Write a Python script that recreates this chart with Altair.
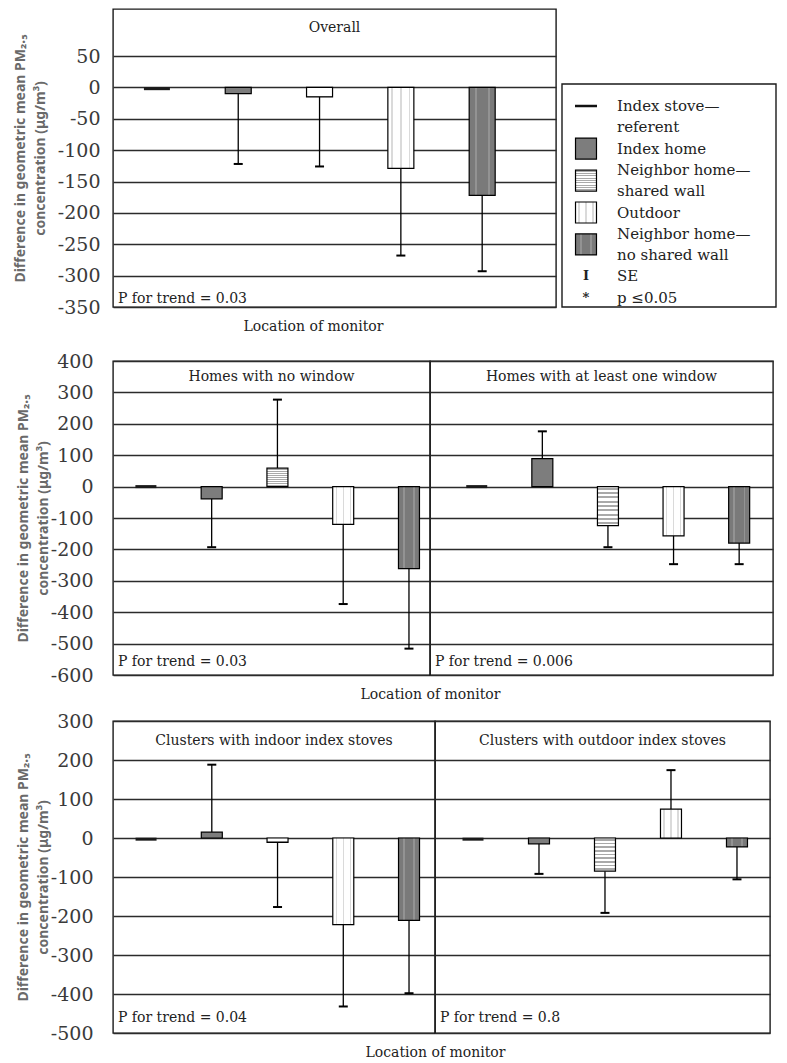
import altair as alt
import pandas as pd

# ---------------- data ----------------
locations = ["Index stove—referent", "Index home", "Neighbor home—shared wall",
             "Outdoor", "Neighbor home—no shared wall"]

overall_diff = [-2, -10, -15, -129, -172]
overall_se_end = [None, -122, -126, -268, -293]

no_window_diff = [0, -39, 59, -120, -261]
no_window_se_end = [None, -193, 277, -374, -516]
window_diff = [0, 89, -124, -157, -180]
window_se_end = [None, 176, -193, -247, -247]

indoor_diff = [-3, 15, -11, -222, -211]
indoor_se_end = [None, 188, -177, -432, -398]
outdoor_diff = [-3, -15, -85, 74, -23]
outdoor_se_end = [None, -92, -192, 174, -106]

overall_ticks = [-350, -300, -250, -200, -150, -100, -50, 0, 50]
window_ticks = [-600, -500, -400, -300, -200, -100, 0, 100, 200, 300, 400]
stove_ticks = [-500, -400, -300, -200, -100, 0, 100, 200, 300]

panel_titles = ["Overall", "Homes with no window", "Homes with at least one window",
                "Clusters with indoor index stoves", "Clusters with outdoor index stoves"]
trend_labels = ["P for trend = 0.03", "P for trend = 0.03", "P for trend = 0.006",
                "P for trend = 0.04", "P for trend = 0.8"]
x_title = "Location of monitor"
y_title = ["Difference in geometric mean PM₂.₅", "concentration (μg/m³)"]

legend_labels = ["Index stove—\nreferent", "Index home", "Neighbor home—\nshared wall",
                 "Outdoor", "Neighbor home—\nno shared wall", "SE", "p ≤0.05"]
legend_kinds = ["dash", "Index home", "Neighbor home—shared wall", "Outdoor",
                "Neighbor home—no shared wall", "glyph", "glyph"]
legend_glyphs = ["", "", "", "", "", "I", "*"]

# ---------------- styles ----------------
SERIF = "DejaVu Serif"
SANS = "Noto Sans"
GRID = "#2b2b2b"
FRAME = alt.ViewBackground(stroke="#1a1a1a", strokeWidth=1.4)


def stripes(base, line, n, frac, along_y):
    stops = []
    for i in range(n):
        a = i / n
        b = (i + (1 - frac) / 2) / n
        c = (i + (1 + frac) / 2) / n
        d = (i + 1) / n
        stops += [{"offset": a, "color": base}, {"offset": b, "color": base},
                  {"offset": b, "color": line}, {"offset": c, "color": line},
                  {"offset": c, "color": base}, {"offset": d, "color": base}]
    return {"gradient": "linear", "stops": stops, "x1": 0, "y1": 0,
            "x2": 0 if along_y else 1, "y2": 1 if along_y else 0}


fills = {
    "Index home": "#7d7d7d",
    "Neighbor home—shared wall": stripes("#ffffff", "#a9a9a9", 9, 0.45, True),
    "Outdoor": stripes("#ffffff", "#dadada", 3, 0.18, False),
    "Neighbor home—no shared wall": stripes("#7a7a7a", "#939393", 2, 0.16, False),
}


def panel(title, trend, diff, se_end, ticks, header_line, ytop, w, h, pad, align, bar_w,
          left_axis, label_pad=13, title_pad=12, xtitle_x=None, trend_off=13, head_shift=0):
    df = pd.DataFrame({"loc": locations, "diff": diff, "se_end": se_end})
    if xtitle_x is not None:
        xaxis = alt.Axis(title=x_title, labels=False, ticks=False, domain=False, grid=False,
                         titleX=xtitle_x, titleY=19, titleAlign="center", titleBaseline="middle",
                         titleFont=SERIF, titleFontSize=14, titleFontWeight="normal",
                         titleColor="#222222")
    else:
        xaxis = None
    x = alt.X("loc:N", sort=locations,
              scale=alt.Scale(type="point", domain=locations, padding=pad, align=align, round=False),
              axis=xaxis)
    if left_axis:
        yaxis = alt.Axis(values=ticks, grid=True, gridColor=GRID, gridWidth=1.3, ticks=False,
                         domain=False, labelExpr="'' + datum.value", labelFont=SERIF,
                         labelFontSize=19, labelColor="#3a3a3a", labelPadding=label_pad,
                         title=y_title, titleFont=SANS, titleFontSize=14,
                         titleFontWeight="bold", titleColor="#6a6a6a", titlePadding=title_pad,
                         titleLineHeight=20)
    else:
        yaxis = alt.Axis(values=ticks, grid=True, gridColor=GRID, gridWidth=1.3, ticks=False,
                         domain=False, labels=False, title=None)
    yscale = alt.Scale(domain=[ticks[0], ytop], nice=False, zero=False)

    def Y(field):
        return alt.Y(field, type="quantitative", scale=yscale, axis=yaxis)

    base = alt.Chart(df)
    has_se = base.transform_filter("isValid(datum.se_end)")
    err = has_se.mark_rule(color="black", strokeWidth=1.3).encode(x=x, y=Y("diff"), y2="se_end:Q")
    cap = has_se.mark_tick(orient="horizontal", size=9, thickness=2, color="black",
                           opacity=1).encode(x=x, y=Y("se_end"))
    stove = base.transform_filter(alt.datum.loc == locations[0]).mark_tick(
        orient="horizontal", size=bar_w, thickness=3, color="#1a1a1a", opacity=1
    ).encode(x=x, y=Y("diff"))
    bars = [base.transform_filter(alt.datum.loc == loc).mark_bar(
        size=bar_w, fill=fills[loc], stroke="black", strokeWidth=1.2, opacity=1
    ).encode(x=x, y=Y("diff")) for loc in locations[1:]]

    hdr = h * (ytop - header_line) / (ytop - ticks[0])
    head = alt.Chart(pd.DataFrame({"t": [title]})).mark_text(
        font=SERIF, fontSize=14, color="#222222", baseline="middle"
    ).encode(text="t:N", x=alt.value(w / 2), y=alt.value(hdr / 2 - head_shift))
    ptxt = alt.Chart(pd.DataFrame({"t": [trend]})).mark_text(
        font=SERIF, fontSize=14, color="#222222", align="left", baseline="middle"
    ).encode(text="t:N", x=alt.value(5), y=alt.value(h - trend_off))

    return alt.layer(err, cap, *bars, stove, head, ptxt).properties(
        width=w, height=h, view=FRAME)


def legend_chart(w, h, box_top):
    text_rows, sym_rows = [], []
    r = 0
    for lab, kind, g in zip(legend_labels, legend_kinds, legend_glyphs):
        lines = lab.split("\n")
        for j, ln in enumerate(lines):
            text_rows.append({"row": r + j, "text": ln})
        srow = r if kind == "dash" else r + (len(lines) - 1) / 2
        sym_rows.append({"row": srow, "kind": kind, "glyph": g})
        r += len(lines)
    tdf = pd.DataFrame(text_rows)
    sdf = pd.DataFrame(sym_rows)
    first_px, step_px = 22, 21.3
    y0 = box_top + first_px
    lscale = alt.Scale(domain=[-y0 / step_px, (h - y0) / step_px], reverse=True, nice=False, zero=False)
    Yr = alt.Y("row:Q", scale=lscale, axis=None)

    box = alt.Chart(pd.DataFrame({"k": [0]})).mark_rect(
        fill="white", stroke="#1a1a1a", strokeWidth=1.4
    ).encode(x=alt.value(0), x2=alt.value(w), y=alt.value(box_top), y2=alt.value(h))
    txt = alt.Chart(tdf).mark_text(align="left", baseline="middle", font=SERIF, fontSize=15,
                                   color="#222222").encode(x=alt.value(55), y=Yr, text="text:N")
    sbase = alt.Chart(sdf)
    dash = sbase.transform_filter(alt.datum.kind == "dash").mark_tick(
        orient="horizontal", size=22, thickness=2.5, color="#111111", opacity=1
    ).encode(x=alt.value(24), y=Yr)
    squares = [sbase.transform_filter(alt.datum.kind == loc).mark_square(
        size=440, fill=fills[loc], stroke="black", strokeWidth=1.2, opacity=1
    ).encode(x=alt.value(24), y=Yr) for loc in locations[1:]]
    glyph = sbase.transform_filter(alt.datum.kind == "glyph").mark_text(
        font=SERIF, fontSize=13, fontWeight="bold", color="#222222", baseline="middle"
    ).encode(x=alt.value(24), y=Yr, text="glyph:N")
    return alt.layer(box, dash, *squares, glyph, txt).properties(
        width=w, height=h, view=alt.ViewBackground(stroke="transparent"))


overall = panel(panel_titles[0], trend_labels[0], overall_diff, overall_se_end, overall_ticks,
                overall_ticks[-1], 125, 443, 298, 0.724, 0.373, 26, True, label_pad=13,
                title_pad=10, xtitle_x=200, trend_off=8, head_shift=5)
legend = legend_chart(214, 298, 75)

no_win = panel(panel_titles[1], trend_labels[1], no_window_diff, no_window_se_end, window_ticks,
               window_ticks[-2], 400, 317, 314, 0.41, 0.61, 21, True, label_pad=20, title_pad=0)
win = panel(panel_titles[2], trend_labels[2], window_diff, window_se_end, window_ticks,
            window_ticks[-2], 400, 343, 314, 0.614, 0.58, 21, False, xtitle_x=0)

indoor = panel(panel_titles[3], trend_labels[3], indoor_diff, indoor_se_end, stove_ticks,
               stove_ticks[-2], 300, 322, 312, 0.449, 0.56, 21, True, label_pad=20,
               title_pad=0, trend_off=15)
outdoor = panel(panel_titles[4], trend_labels[4], outdoor_diff, outdoor_se_end, stove_ticks,
                stove_ticks[-2], 300, 335, 312, 0.538, 0.535, 21, False, xtitle_x=0,
                trend_off=15)

row1 = alt.hconcat(overall, legend, spacing=3)
row2 = alt.hconcat(no_win, win, spacing=0, bounds="flush")
row3 = alt.hconcat(indoor, outdoor, spacing=0, bounds="flush")

chart = alt.vconcat(alt.vconcat(row1, row2, spacing=17), row3, spacing=9).properties(
    padding={"left": 4, "right": 0, "top": 0, "bottom": 0}
).configure_view(stroke="#1a1a1a", strokeWidth=1.4).configure(background="white")

chart.save("out.html", embed_options={"renderer": "svg", "actions": False})
